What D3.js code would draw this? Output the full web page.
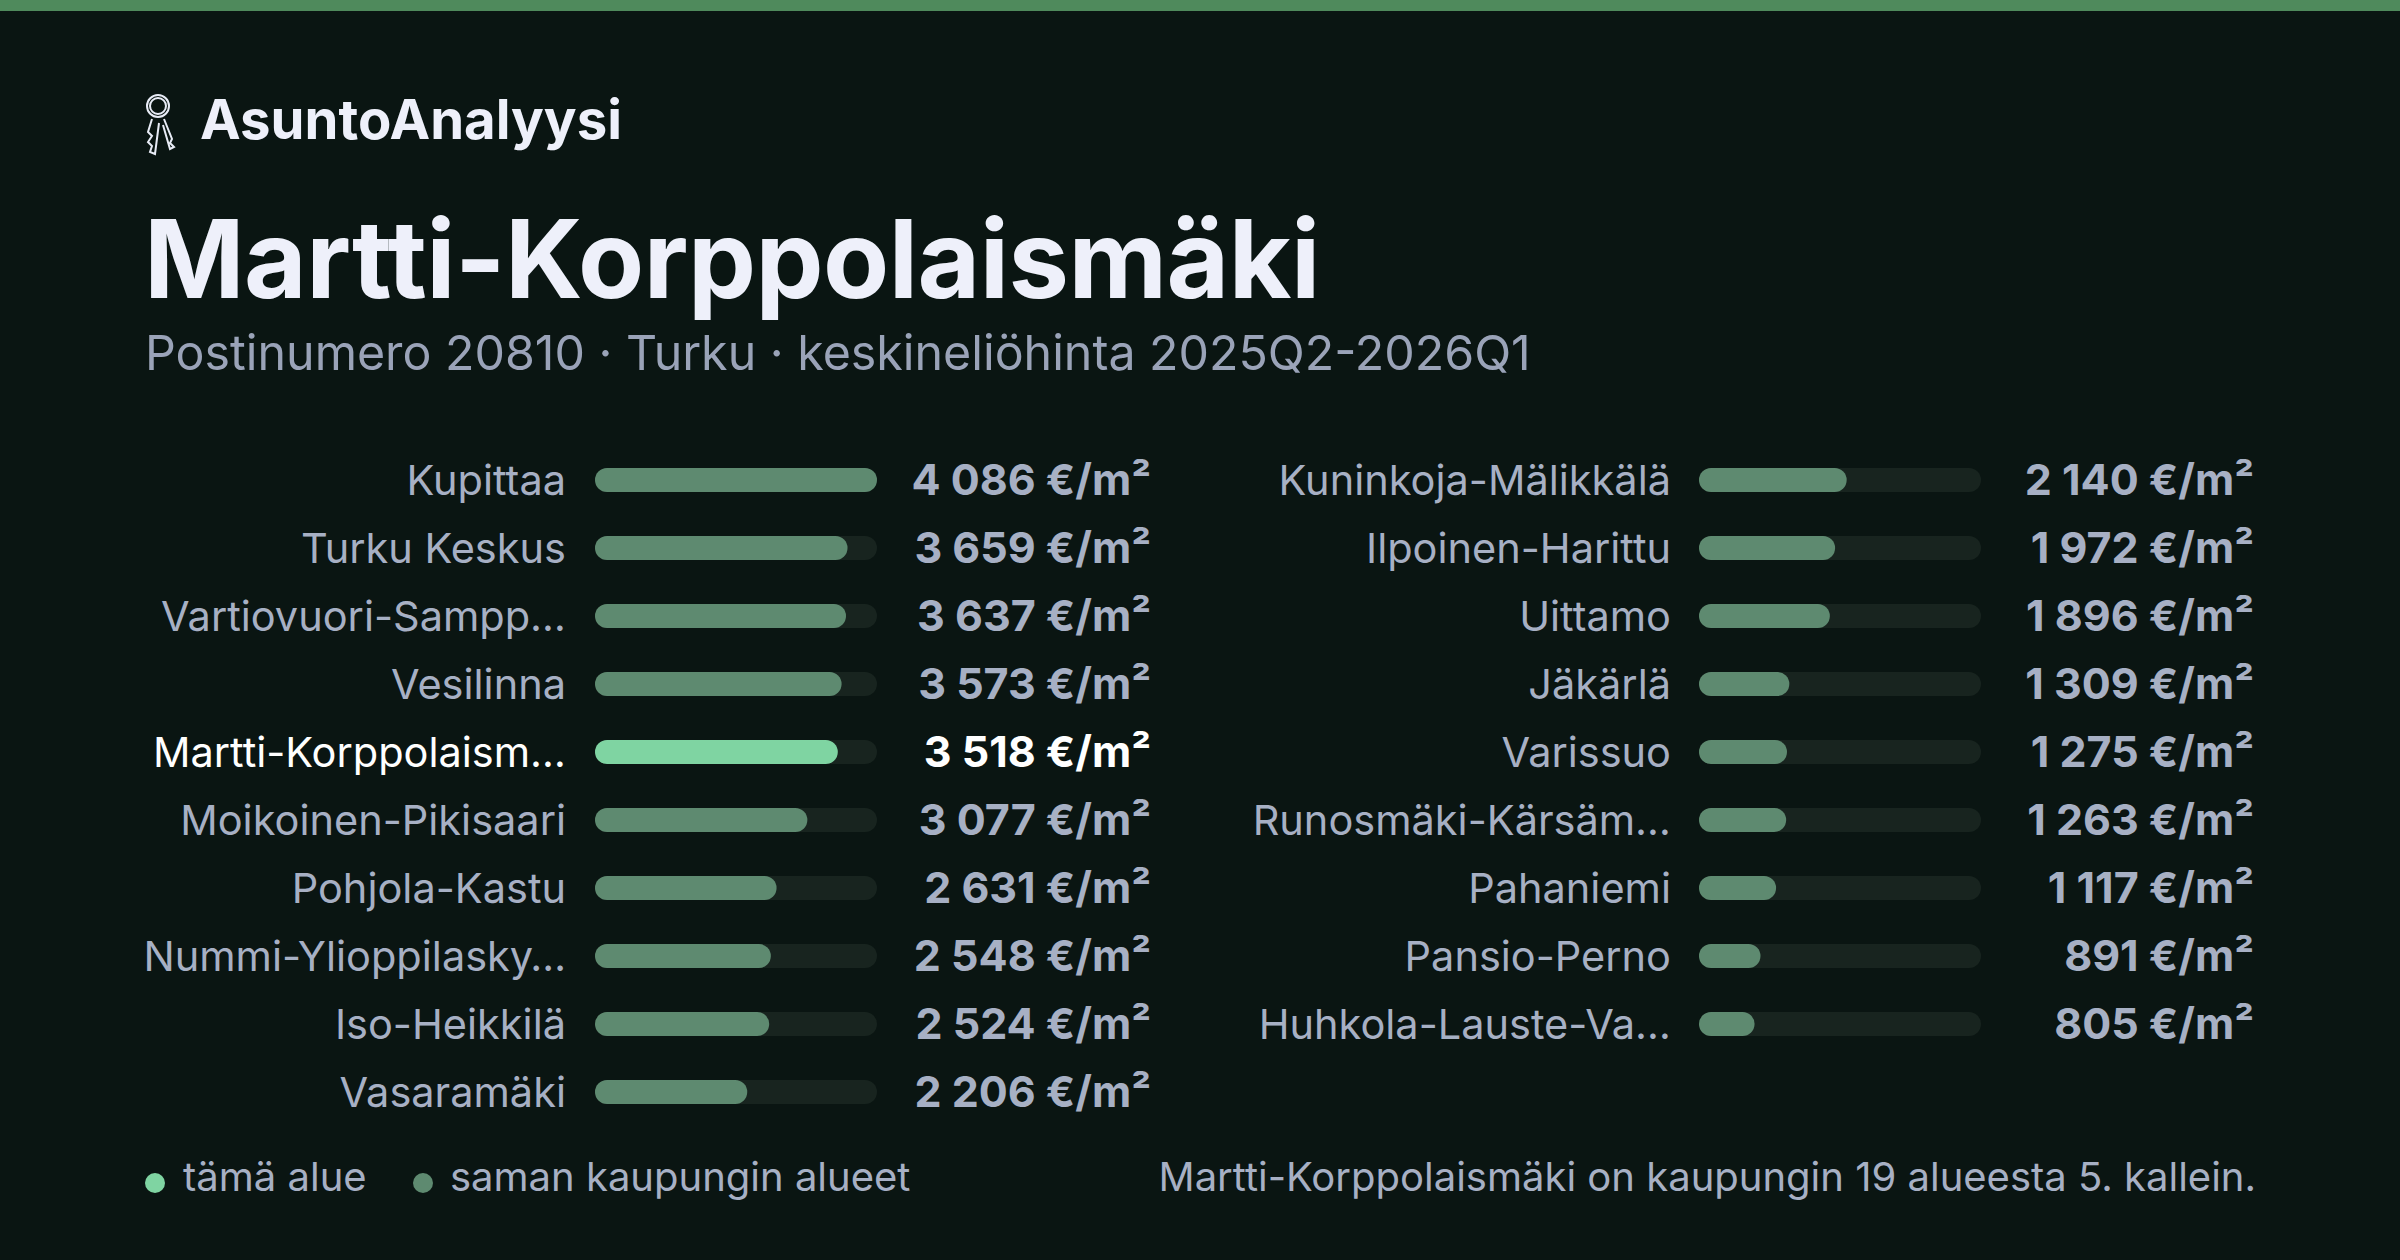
<!DOCTYPE html>
<html><head><meta charset="utf-8">
<script src="https://cdn.jsdelivr.net/npm/d3@7"></script>
<style>html,body{margin:0;padding:0;background:#0a1512;}svg{display:block}</style>
</head><body>
<svg id="c" width="2400" height="1260"></svg>
<script>
const leftNames = ["Kupittaa","Turku Keskus","Vartiovuori-Sampp…","Vesilinna","Martti-Korppolaism…","Moikoinen-Pikisaari","Pohjola-Kastu","Nummi-Ylioppilasky…","Iso-Heikkilä","Vasaramäki"];
const leftValues = [4086,3659,3637,3573,3518,3077,2631,2548,2524,2206];
const rightNames = ["Kuninkoja-Mälikkälä","Ilpoinen-Harittu","Uittamo","Jäkärlä","Varissuo","Runosmäki-Kärsäm…","Pahaniemi","Pansio-Perno","Huhkola-Lauste-Va…"];
const rightValues = [2140,1972,1896,1309,1275,1263,1117,891,805];
const highlight = "Martti-Korppolaism…";

const svg = d3.select("#c");
const F = "Inter, 'Noto Sans', sans-serif";
svg.append("rect").attr("width",2400).attr("height",1260).attr("fill","#0a1512");
svg.append("rect").attr("width",2400).attr("height",11).attr("fill","#4f8a5c");

// logo
const g = svg.append("g").attr("transform","translate(148,92)").attr("fill","none").attr("stroke","#e8ecf6").attr("stroke-width",2);
g.append("circle").attr("cx",10).attr("cy",14).attr("r",11);
g.append("circle").attr("cx",10).attr("cy",14).attr("r",8);
g.append("path").attr("d","M4 27 L0 40 L4 44 L0 50 L4 54 L2 60 L7 62 L11 31");
g.append("path").attr("d","M16 27 L24 47 L22 51 L26 55 L22 57 L15 33");
svg.append("text").attr("x",200).attr("y",139).attr("fill","#eef0fa").attr("font-family",F).attr("font-weight",700).attr("font-size",54.5).text("AsuntoAnalyysi");

svg.append("text").attr("x",144).attr("y",298).attr("fill","#eef0fa").attr("font-family",F).attr("font-weight",700).attr("font-size",108).attr("letter-spacing",-0.5).text("Martti-Korppolaismäki");
svg.append("text").attr("x",145).attr("y",370).attr("fill","#9aa3b8").attr("font-family",F).attr("font-size",48.3).text("Postinumero 20810 · Turku · keskineliöhinta 2025Q2-2026Q1");

const maxV = d3.max(leftValues.concat(rightValues));
const y = d3.scaleBand().domain(d3.range(10)).range([446,446+68*10]);
const fmt = v => d3.format(",")(v).replace(/,/g," ") + " €/m²";

function column(names, values, labelX, barX0, barX1, valX){
  const x = d3.scaleLinear().domain([0,maxV]).range([barX0,barX1]);
  const rows = svg.append("g").selectAll("g").data(names.map((n,i)=>({n,v:values[i],i}))).join("g")
    .attr("transform",d=>`translate(0,${y(d.i)+y.bandwidth()/2})`);
  rows.append("text").attr("x",labelX).attr("y",15).attr("text-anchor","end")
    .attr("font-family",F).attr("font-size",41.5)
    .attr("fill",d=>d.n===highlight?"#ffffff":"#a7b0c4").text(d=>d.n);
  rows.append("rect").attr("x",barX0).attr("y",-12).attr("height",24).attr("rx",12)
    .attr("width",barX1-barX0).attr("fill","#18241f");
  rows.append("rect").attr("x",barX0).attr("y",-12).attr("height",24).attr("rx",12)
    .attr("width",d=>x(d.v)-barX0).attr("fill",d=>d.n===highlight?"#7fd4a2":"#5e8a70");
  rows.append("text").attr("x",valX).attr("y",15).attr("text-anchor","end")
    .attr("font-family",F).attr("font-weight",700).attr("font-size",43)
    .attr("fill",d=>d.n===highlight?"#ffffff":"#a7b0c4").text(d=>fmt(d.v));
}
column(leftNames,leftValues,566,595,877,1151);
column(rightNames,rightValues,1671,1699,1981,2254);

svg.append("circle").attr("cx",155).attr("cy",1183).attr("r",10).attr("fill","#7fd4a2");
svg.append("text").attr("x",183).attr("y",1191).attr("fill","#a7b0c4").attr("font-family",F).attr("font-size",40).text("tämä alue");
svg.append("circle").attr("cx",423).attr("cy",1183).attr("r",10).attr("fill","#5e8a70");
svg.append("text").attr("x",450).attr("y",1191).attr("fill","#a7b0c4").attr("font-family",F).attr("font-size",40).text("saman kaupungin alueet");
svg.append("text").attr("x",2256).attr("y",1191).attr("text-anchor","end").attr("fill","#a7b0c4").attr("font-family",F).attr("font-size",40).text("Martti-Korppolaismäki on kaupungin 19 alueesta 5. kallein.");
</script>
</body></html>
